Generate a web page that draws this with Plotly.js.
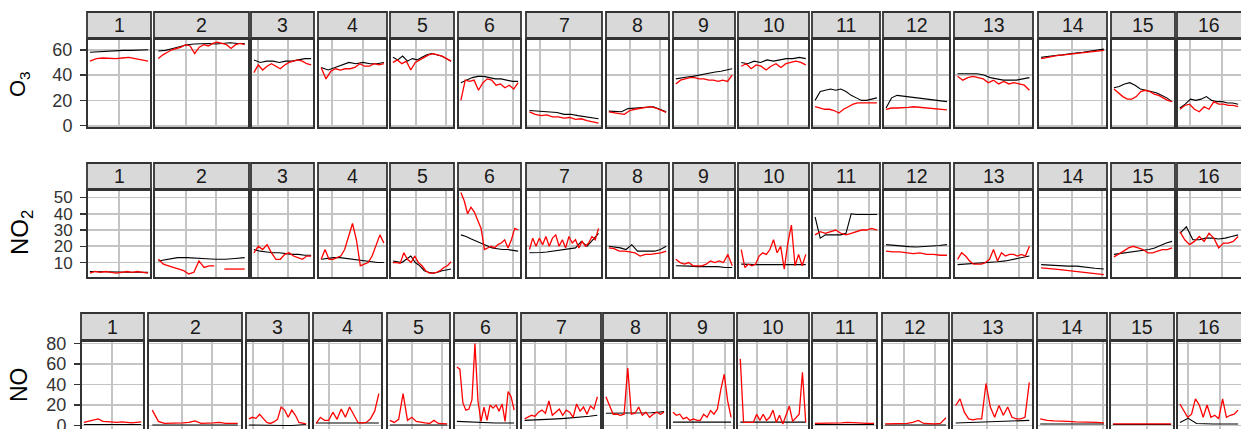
<!DOCTYPE html>
<html>
<head>
<meta charset="utf-8">
<script src="https://cdn.plot.ly/plotly-3.0.1.min.js"></script>
<style>html,body{margin:0;padding:0;background:#fff;overflow:hidden}</style>
</head>
<body>
<div id="chart" style="width:1241px;height:429px"></div>
<script>
// ---------------- DATA ----------------
const campaigns = ['1','2','3','4','5','6','7','8','9','10','11','12','13','14','15','16'];
const pollutants = ['O3','NO2','NO'];

// red = observed, black = modelled (one array per campaign)
const o3Obs = [
  [51,53,53.5,53,53,53.5,54,53,52,51],
  [53,56,58,60,61,62,64,63,57,62,64,63,65,66,65,64,61,64,65,64],
  [42,48,44,47,49,47,45,48,50,51,52,51,49,48],
  [46,37,43,45,44,45,45,46,49,47,47,49,48,49],
  [50,52,49,51,44,50,52,54,56,57,56,55,53,51],
  [20,36,35,36,28,34,37,36,32,33,30,32,29,34],
  [11,9,8,8.5,7,7,6,6.5,5,5.5,4,3,2],
  [11,10,9.5,9,12,13,13.5,14,15,14,12,10.5],
  [33,36,37,38,38,37,37,36,36,35,36,35,40],
  [47,49,45,48,47,44,47,49,46,49,50,51,50,48],
  [15,14,13,13,12,10,13,15,17,18,18,18,18,18],
  [13,14,14,14,14.5,15,14.5,14,13.5,13,13,12.5],
  [39,36,38,39,38,37,34,36,33,35,33,34,33,32,28],
  [53,54,55,55.5,56,56.5,57,57,58,58.5,59,59.5],
  [29,26,23,21,21,23,27,28,27,25,24,22,20,19],
  [13,16,17,13,11,15,13,19,17,17,16,16,15]
];
const o3Mod = [
  [58,58.5,59,59,59.5,59.5,60,60],
  [59,59.5,61,62.5,64,64.5,65,65,64.5,65,65.5,65,65],
  [52,50,51,51,50,51,51,52,53,53],
  [46,44,46,48,50,49,50,49,49,50],
  [54,52,55,51,53,52,54,56,57,56,55,53,51],
  [34,36,38,39,39,38,37,37,36,35,35],
  [12,11.5,11,10.5,10.5,9,9,8,7,6,5.5],
  [11.5,11,11,13.5,14,14,14.5,15,13,11],
  [37,38,38.5,39,40,41,42,42.5,43,44,45],
  [50,49,51,50,52,51,52,53,53,54,53],
  [20,27,28,29,28,29,27,24,22,20,20,21,22],
  [14,22,24,23.5,23,22,21.5,21,21,20.5,20,19],
  [41,41,41.5,41,40,38,37,36,36,36,37,38],
  [54,55,55.5,56,57,57.5,58,59,60,60.5],
  [30,31,33,34,32,29,28,27,26,24,22,19],
  [14,17,21,20,21,23,20,19,19,18,18,17]
];

const no2Obs = [
  [3.5,4.5,4,4.5,4,3.5,4,4.5,4,4.5,4,3.5],
  [12,9,8,7,6,5,3,4,11,7,8,8,null,6,6,6,6,6],
  [16,20,18,21,16,12,12,15,16,14,13,12,14,14],
  [12,18,12,12,13,14,18,26,34,24,8,9,10,14,20,27,22],
  [10,10,9.5,16,12,10,14,10,8,5,3.5,3.5,4,5,7,8,10.5],
  [53,48,40,44,41,36,31,18,19,20,19,21,22,24,19,24,31,30],
  [18,25,20,25,21,26,20,25,27,20,24,19,26,22,24,19,23,20,22,26,24,31],
  [19,18.5,17,17,16.5,16,14,15,15,15.5,16,17],
  [12,10,9,10,8,8,8,9,11,10,11,10,15,8],
  [18,7,9,8,9,14,16,15,18,24,16,20,6,22,33,8,15,8,15],
  [27,29,28,29,30,28,27,28,29,30,30,31,30],
  [17,16.5,16.5,16,15.5,16,15,15,14.5,14.5],
  [12,16,14,11,9,9,9,10,12,18,11,16,14,15,15,14,15,14,20],
  [6.7,6.5,6,5.5,5,4.5,4,3.5,3,2.6],
  [13.5,15,17,19,20,19,18,16,16,17,18,18,19],
  [29,24,21,23,26,23,28,25,19,22,22,23,26]
];
const no2Mod = [
  [4.5,4.5,4.3,4.2,4,4,4],
  [11,12,13,13,12.5,12.3,12,12,12.5,13],
  [18,17,16.5,16,16,15.5,15,15,14.5,14.5],
  [12,12.5,13,13,12.5,12,11.5,11,10.5,10,10],
  [11,10.5,10,12,14,10,8,5,4,3.5,4,5,5.5,6],
  [27,26,24.5,23,21.5,20,19,18.5,18,18,17.5,17],
  [16,16,16.2,16.5,17,17.5,18,18.5,19,23,20,24,28],
  [20,19.5,19,18,21,17,17,17,17,18,20],
  [8,8,7.8,7.5,7.5,7.5,7.5,7,7],
  [9,8.7,8.7,8.7,8.7,8.7,8.7,8.7,8.7,8.7],
  [38,25,27,27,27,27,28,40,39.5,39.5,39.5,39.5,39.5],
  [21,20.5,20,19.8,19.6,19.8,20,20.5,21],
  [8.7,9,9.2,9.5,10,10.5,11,12,13,14],
  [8.7,8.3,8,7.8,7.8,7,6.5,6],
  [15,15.5,16,16.5,17,17.5,18,19,20.5,22,23],
  [28,32,24,24,25,25,24.5,25,26,27]
];

const noObs = [
  [3,4,5,6.5,4,3.5,3,3,3.5,3,2.5,3,3.5],
  [15,4,2,2,2,2.5,3,4.5,2,2,2.5,3,2,2,2],
  [6.5,8,7,11,7,3,2,3.5,6,18,15,8,15,10,3,2,1.5],
  [2,8,5,5,13,6,16,8,18,10,3,2.5,3,6.5,14,31],
  [5,3,6,31,5,8,4,3,2.5,2,5,2,1.5,1.5],
  [57,55,22,15,16,25,80,24,4,18,5,20,17,20,14,21,4,33,28,15],
  [6.5,8,10,9,13,15,12,24,10,13,16,10,15,13,8,21,14,18,11,19,16,28],
  [28,19,11,11,10,11,56,11,12,18,10,13,8,11,13,11,13],
  [13,10,11,6.5,8,5,6.5,5,5,11,8,14.6,11,16,35,50,24,8],
  [65,3,3,3,3,11,5,11,5,8,15,3,10,1.5,11,19,4,8,11,52,3],
  [2,2,2,2,2.5,3,2.5,2,2,2],
  [1.5,1.5,2,2,2,3,5,2,1.5,1.5,2,7.5],
  [19.5,26,13,6.5,5.5,6.5,6.5,41,18,8,19.5,10,18,8,6.5,6.5,8,42],
  [6.5,5,4.5,4.5,4,3.5,3.5,3,3,2.5],
  [1.6,1.8,1.6,1.5,1.6,1.7,1.6,1.5],
  [21,15,8,11,26,20,8,20,8,10,6.5,26,8,10,11,15]
];
const noMod = [
  [1,1,1,1,1,1],
  [0.5,0.5,0.5,0.5,0.5,0.5],
  [0.5,0.3,0,0,0,0,0,0.5,1],
  [2.5,2.5,2.5,2.5,2.5,2.5,2.5],
  [0.5,0.5,0.5,0.5,0.5],
  [4,3.5,3,2.5,2.5,2.5,2.5],
  [5,5.2,5.5,6,6.5,7,7.5,8,9,10],
  [12,12,12,12,12,12,12,12.5,13,13.5],
  [3.3,3.3,3.3,3.3,3.3,3.3],
  [3.3,3.3,3.3,3.3,3.3,3.3],
  [1,1,1,1],
  [0.5,0.5,0.5,0.5,0.5],
  [2.5,2.8,3,3.3,3.6,4,4.5,5],
  [1.5,1.5,1.5,1.5,1.5,1.5],
  [1,1,1,1,1],
  [3,7,2,1.5,1.5,1.5,1.5,1.5]
];

const yTickVals = {O3:[0,20,40,60], NO2:[10,20,30,40,50], NO:[0,20,40,60,80]};
const yTitles = {O3:'O<sub>3</sub>', NO2:'NO<sub>2</sub>', NO:'NO'};

// ---------------- LAYOUT GEOMETRY (pixels) ----------------
const FIG_W = 1241, FIG_H = 429;
const DAY_PX = 30.4 / 7;
const FONT = 'Liberation Sans, Arial, Helvetica, sans-serif';
const GRID = '#c4c4c4';
const BORDER = '#333333';

const edgesTop = [[87,151],[154,249],[251,314],[318,387],[390,454],[458,521],[526,602],[606,669],[673,735],[738,809],[812,880],[883,950],[954,1033],[1038,1107],[1111,1175],[1177,1241]];
const gridsTop = [[119],[186,216],[258,288],[332,363],[416,446],[483,513],[540,570],[630,660],[698,728],[758,788],[838,869],[906,937],[988,1019],[1072,1102],[1147],[1190,1222]];
const edgesBottom = [[81,144],[148,242],[246,309],[313,382],[387,450],[454,517],[521,601],[603,667],[670,734],[737,809],[812,877],[882,949],[952,1033],[1037,1107],[1110,1174],[1177,1241]];
const gridsBottom = [[112],[182,212],[253,283],[329,360],[412,442],[480,510],[535,566],[627,657],[693,725],[757,787],[837,867],[904,935],[987,1017],[1072,1103],[1147],[1188,1220]];

const rowSpec = [
  {key:'O3',  obs:o3Obs,  mod:o3Mod,  top:39,  bottom:128, stripTop:12,  stripBottom:38,  edges:edgesTop,    grids:gridsTop,    range:[-1.8,68.5], tickSize:18, titleX:19, titleY:84,  titleSize:22},
  {key:'NO2', obs:no2Obs, mod:no2Mod, top:190, bottom:278, stripTop:163, stripBottom:189, edges:edgesTop,    grids:gridsTop,    range:[0.5,54.6],  tickSize:17, titleX:21, titleY:233, titleSize:24},
  {key:'NO',  obs:noObs,  mod:noMod,  top:341, bottom:429, stripTop:313, stripBottom:340, edges:edgesBottom, grids:gridsBottom, range:[-3.4,82.4], tickSize:18, titleX:19, titleY:385, titleSize:23}
];

const data = [];
const layout = {
  width: FIG_W, height: FIG_H,
  margin: {l:0, r:0, t:0, b:0, pad:0},
  paper_bgcolor: '#ffffff', plot_bgcolor: '#ffffff',
  showlegend: false,
  font: {family: FONT, color: '#333'},
  shapes: [], annotations: []
};

let k = 0;
rowSpec.forEach((row, r) => {
  campaigns.forEach((camp, p) => {
    k++;
    const sfx = k === 1 ? '' : String(k);
    const xid = 'x' + sfx, yid = 'y' + sfx;
    const [L, R] = row.edges[p];
    const W = R - L;
    const D = W / (1.1 * DAY_PX);
    const gv = row.grids[p].map(g => (g - L) / DAY_PX - 0.05 * D);
    const H = row.bottom - row.top;

    layout['xaxis' + sfx] = {
      domain: [L / FIG_W, R / FIG_W], anchor: yid,
      range: [-0.05 * D, 1.05 * D], tickmode: 'array', tickvals: gv,
      showticklabels: false, ticks: '', showgrid: true, gridcolor: GRID, gridwidth: 1.6,
      zeroline: false, showline: false, fixedrange: true
    };
    layout['yaxis' + sfx] = {
      domain: [1 - row.bottom / FIG_H, 1 - row.top / FIG_H], anchor: xid,
      range: row.range, tickmode: 'array', tickvals: yTickVals[row.key],
      showticklabels: p === 0, ticks: p === 0 ? 'outside' : '',
      ticklen: 6, tickwidth: 1.5, tickcolor: BORDER, ticklabelstandoff: 4,
      ticklabeloverflow: 'allow',
      tickfont: {family: FONT, size: row.tickSize, color: '#333'},
      showgrid: true, gridcolor: GRID, gridwidth: 1.6,
      zeroline: false, showline: false, fixedrange: true
    };

    const mod = row.mod[p], obs = row.obs[p];
    data.push({
      type: 'scatter', mode: 'lines', xaxis: xid, yaxis: yid,
      x: mod.map((_, i) => i * D / (mod.length - 1)), y: mod,
      line: {color: '#000000', width: 1.1}, hoverinfo: 'skip', cliponaxis: true
    });
    data.push({
      type: 'scatter', mode: 'lines', xaxis: xid, yaxis: yid,
      x: obs.map((_, i) => i * D / (obs.length - 1)), y: obs,
      line: {color: '#ff0000', width: 1.3}, connectgaps: false, hoverinfo: 'skip'
    });

    const openRight = p === campaigns.length - 1;
    const openBottom = r === rowSpec.length - 1;
    // panel border
    layout.shapes.push({
      type: 'rect', xref: xid + ' domain', yref: yid + ' domain',
      x0: 0, x1: openRight ? 1 + 12 / W : 1, y0: openBottom ? -8 / H : 0, y1: 1,
      line: {color: BORDER, width: 2}, fillcolor: 'rgba(0,0,0,0)', layer: 'above'
    });
    // strip
    layout.shapes.push({
      type: 'rect', xref: xid + ' domain', yref: 'paper',
      x0: 0, x1: openRight ? 1 + 12 / W : 1,
      y0: 1 - row.stripBottom / FIG_H, y1: 1 - row.stripTop / FIG_H,
      line: {color: BORDER, width: 1.8}, fillcolor: '#d9d9d9', layer: 'above'
    });
    layout.annotations.push({
      xref: xid + ' domain', yref: 'paper', x: 0.5,
      y: 1 - (row.stripTop + row.stripBottom) / 2 / FIG_H,
      text: camp, showarrow: false, xanchor: 'center', yanchor: 'middle',
      font: {family: FONT, size: 19.5, color: '#1a1a1a'}
    });
  });
  layout.annotations.push({
    xref: 'paper', yref: 'paper', x: row.titleX / FIG_W, y: 1 - row.titleY / FIG_H,
    text: yTitles[row.key], textangle: -90, showarrow: false,
    xanchor: 'center', yanchor: 'middle',
    font: {family: FONT, size: row.titleSize, color: '#000'}
  });
});

Plotly.newPlot('chart', data, layout, {displayModeBar: false, staticPlot: true});
</script>
</body>
</html>
